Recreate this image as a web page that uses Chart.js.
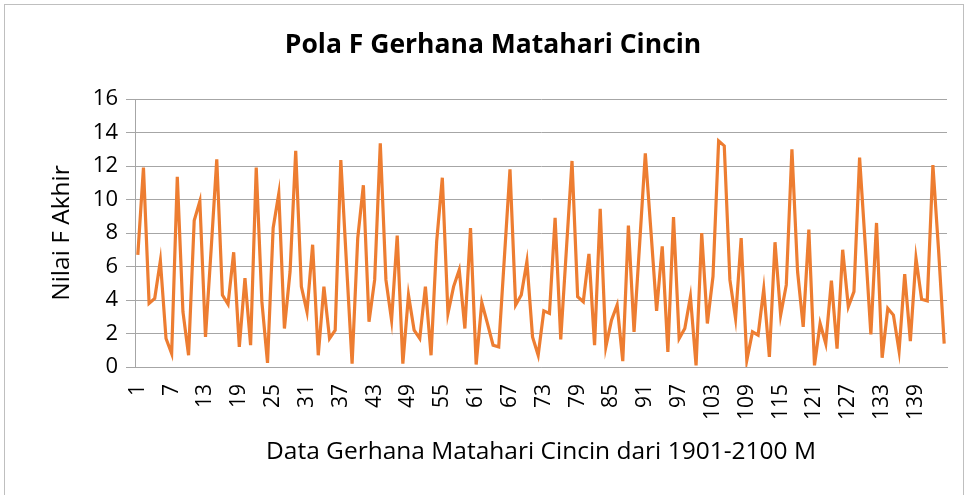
<!DOCTYPE html>
<html>
<head>
<meta charset="utf-8">
<script src="https://cdn.jsdelivr.net/npm/chart.js@4.4.1/dist/chart.umd.min.js"></script>
<style>
  html, body { margin: 0; padding: 0; background: #fff; }
  #frame { position: absolute; left: 4px; top: 4px; width: 958px; height: 520px; border: 1px solid #bfbfbf; }
  #wrap { position: absolute; left: 0; top: 0; width: 968px; height: 495px; }
</style>
</head>
<body>
<div id="frame"></div>
<div id="wrap"><canvas id="polaChart"></canvas></div>
<script>
// nilai F akhir per gerhana
const fValues = [
    6.7, 11.9, 3.8, 4.1, 6.35, 1.7, 0.8, 11.35, 3.3, 0.7,
    8.75, 9.9, 1.8, 7.0, 12.4, 4.3, 3.75, 6.85, 1.2, 5.3,
    1.3, 11.9, 3.9, 0.25, 8.3, 10.35, 2.3, 5.7, 12.9, 4.8,
    3.3, 7.3, 0.7, 4.8, 1.7, 2.2, 12.35, 6.2, 0.2, 7.7,
    10.85, 2.7, 5.2, 13.35, 5.2, 2.8, 7.85, 0.2, 4.3, 2.2,
    1.7, 4.8, 0.7, 7.5, 11.3, 3.2, 4.8, 5.8, 2.3, 8.3,
    0.15, 3.85, 2.6, 1.3, 1.2, 6.5, 11.8, 3.7, 4.3, 6.3,
    1.8, 0.7, 3.35, 3.2, 8.9, 1.65, 7.0, 12.3, 4.2, 3.9,
    6.75, 1.3, 9.45, 1.2, 2.8, 3.7, 0.35, 8.45, 2.1, 7.4,
    12.75, 8.1, 3.35, 7.2, 0.9, 8.95, 1.7, 2.3, 4.2, 0.1,
    8.0, 2.6, 5.4, 13.5, 13.2, 5.2, 2.9, 7.7, 0.4, 2.1,
    1.9, 4.65, 0.6, 7.45, 3.1, 4.9, 13.0, 5.7, 2.4, 8.2,
    0.1, 2.6, 1.4, 5.15, 1.1, 7.0, 3.6, 4.5, 12.5, 7.3,
    1.95, 8.6, 0.55, 3.5, 3.1, 0.95, 5.55, 1.55, 6.5, 4.05,
    3.95, 12.05, 7.0, 1.4
];
const categories = fValues.map((v, i) => String(i + 1));
const yTicks = [0, 2, 4, 6, 8, 10, 12, 14, 16];
const labelEvery = 6;
const chartTitle = "Pola F Gerhana Matahari Cincin";

// judul digambar sendiri supaya posisinya sama dengan gambar asli
const titlePlugin = {
    id: "fixedTitle",
    afterDraw(chart) {
        const c = chart.ctx;
        c.save();
        c.font = "bold 26.5px 'Open Sans'";
        c.fillStyle = "#000";
        c.textAlign = "center";
        c.textBaseline = "middle";
        c.fillText(chartTitle, 493, 45);
        c.restore();
    },
};

const ctx = document.getElementById("polaChart");

new Chart(ctx, {
    type: "line",
    data: {
        labels: categories,
        datasets: [
            {
                label: "Nilai F",
                data: fValues,
                borderColor: "#ED7D31",
                borderWidth: 3.2,
                pointRadius: 0,
                tension: 0,
            },
        ],
    },
    options: {
        responsive: true,
        maintainAspectRatio: false,
        animation: false,
        layout: {
            padding: { left: 0, right: 21, top: 99, bottom: 0 },
        },
        scales: {
            x: {
                offset: true,
                grid: { display: false, drawTicks: false },
                border: { display: true, color: "#a6a6a6" },
                ticks: {
                    autoSkip: false,
                    minRotation: 90,
                    maxRotation: 90,
                    padding: 17,
                    color: "#000",
                    font: { family: "Open Sans", size: 21 },
                    callback: function (val, i) {
                        return i % labelEvery === 0 ? categories[i] : "";
                    },
                },
                title: {
                    display: true,
                    text: "Data Gerhana Matahari Cincin dari 1901-2100 M",
                    color: "#000",
                    font: { family: "Open Sans", size: 24.5 },
                    padding: { top: 0, bottom: 28 },
                },
                afterFit: (scale) => {
                    scale.height = 128;
                    scale.paddingLeft = 0;
                    scale.paddingRight = 0;
                },
            },
            y: {
                min: 0,
                max: 16,
                afterBuildTicks: (scale) => {
                    scale.ticks = yTicks.map((v) => ({ value: v }));
                },
                grid: { color: "#a6a6a6", tickLength: 9 },
                border: { color: "#a6a6a6" },
                ticks: {
                    padding: 8,
                    color: "#000",
                    font: { family: "Open Sans", size: 22 },
                },
                title: {
                    display: true,
                    text: "Nilai F Akhir",
                    color: "#000",
                    font: { family: "Open Sans", size: 24.5 },
                    padding: { top: 47, bottom: 0 },
                },
                afterFit: (scale) => { scale.width = 135; },
            },
        },
        plugins: {
            legend: { display: false },
            tooltip: { enabled: false },
            title: { display: false },
        },
    },
    plugins: [titlePlugin],
});
</script>
</body>
</html>
